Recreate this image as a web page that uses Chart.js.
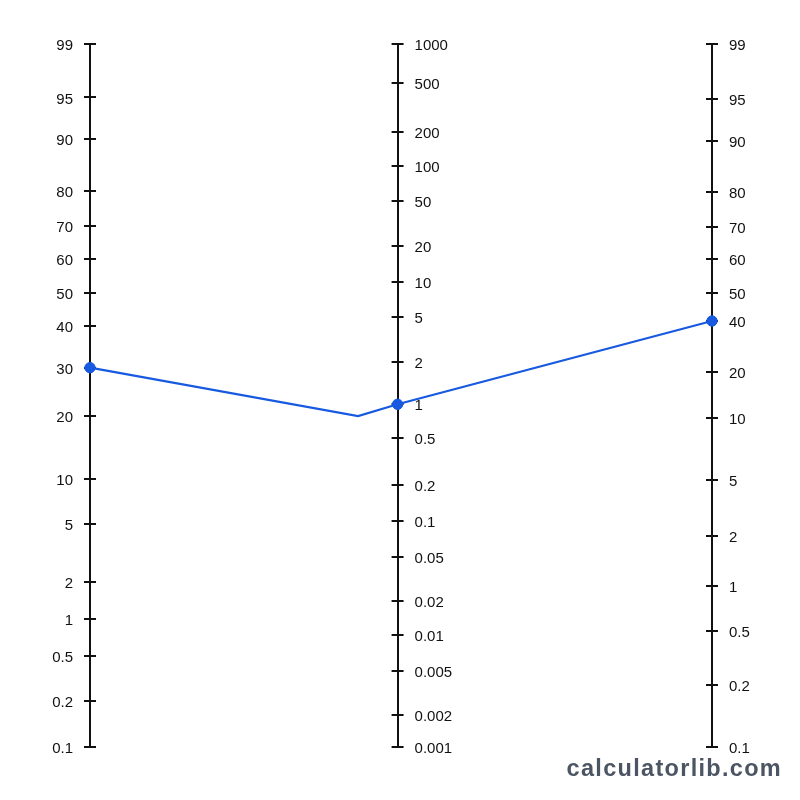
<!DOCTYPE html>
<html>
<head>
<meta charset="utf-8">
<script src="https://cdn.jsdelivr.net/npm/chart.js@4.4.1/dist/chart.umd.min.js"></script>
<style>
  html, body { margin: 0; padding: 0; background: #ffffff; }
  #wrap { position: relative; width: 800px; height: 800px; }
  #brand { position: absolute; right: 18px; top: 755px; font: bold 23.5px "Liberation Sans", Arial, sans-serif; color: #4b5563; letter-spacing: 1.3px; white-space: nowrap; }
</style>
</head>
<body>
<div id="wrap">
  <canvas id="c" width="800" height="800"></canvas>
  <div id="brand">calculatorlib.com</div>
</div>
<script>
// ---- Data (tick labels and the plotted values) ----
const preTestTicks = [0.1, 0.2, 0.5, 1, 2, 5, 10, 20, 30, 40, 50, 60, 70, 80, 90, 95, 99];
const likelihoodRatioTicks = [0.001, 0.002, 0.005, 0.01, 0.02, 0.05, 0.1, 0.2, 0.5, 1, 2, 5, 10, 20, 50, 100, 200, 500, 1000];
const postTestTicks = [0.1, 0.2, 0.5, 1, 2, 5, 10, 20, 40, 50, 60, 70, 80, 90, 95, 99];

const preTestProbability = 30;   // %
const likelihoodRatio = 1;
const postTestProbability = 40;  // %
const bendValue = 20;            // level of the line's bend, read on the pre-test scale
const bendAt = 0.431;            // where the bend sits between the outer axes (0 = left, 1 = right)

// ---- Scale calibration (fraction of axis height for each tick, as drawn) ----
const AXES = {
  pre:  { ticks: preTestTicks, x: 0, side: 'left',
          stops: [0, .0654, .1294, .1817, .2343, .3176, .3808, .4708, .5396, .5989, .6458, .6946, .7411, .7913, .8644, .924, 1] },
  lr:   { ticks: likelihoodRatioTicks, x: 0.4945, side: 'right',
          stops: [0, .0455, .1085, .1593, .2077, .2707, .3215, .3727, .4391, .4875, .5481, .6121, .6619, .7127, .7767, .8265, .8753, .9441, 1] },
  post: { ticks: postTestTicks, x: 1, side: 'right',
          stops: [0, .0882, .165, .229, .3006, .3798, .4676, .5339, .606, .6454, .6942, .7401, .789, .862, .9213, 1] }
};
const TICK_HALF = 6;
const LABEL_GAP = 17;
const LABEL_DROP = 2;

function fractionOf(id, v) {
  const t = AXES[id].ticks, s = AXES[id].stops;
  if (v <= t[0]) return s[0];
  if (v >= t[t.length - 1]) return s[s.length - 1];
  for (let i = 1; i < t.length; i++) {
    if (v <= t[i]) {
      const r = (Math.log(v) - Math.log(t[i - 1])) / (Math.log(t[i]) - Math.log(t[i - 1]));
      return s[i - 1] + r * (s[i] - s[i - 1]);
    }
  }
  return 1;
}

class NomogramScale extends Chart.LinearScale {
  determineDataLimits() { this.min = 0; this.max = 1; }
  buildTicks() { return AXES[this.id].ticks.map(v => ({ value: v })); }
  getPixelForValue(v) { return this.getPixelForDecimal(fractionOf(this.id, v)); }
  axisPixel() { return this.chart.scales.x.getPixelForValue(AXES[this.id].x); }
  _computeGridLineItems(area) {
    const items = super._computeGridLineItems(area);
    const ax = this.axisPixel();
    items.forEach(it => { it.tx1 = ax - TICK_HALF; it.tx2 = ax + TICK_HALF; });
    return items;
  }
  _computeLabelItems(area) {
    const items = super._computeLabelItems(area);
    const ax = this.axisPixel();
    const side = AXES[this.id].side;
    items.forEach(it => {
      it.options.translation[0] = side === 'left' ? ax - LABEL_GAP : ax + LABEL_GAP;
      it.options.translation[1] += LABEL_DROP;
      it.options.textAlign = side === 'left' ? 'right' : 'left';
    });
    return items;
  }
}
NomogramScale.id = 'nomogram';
Chart.register(NomogramScale);

const FONT = { family: '"Liberation Sans", Arial, Helvetica, sans-serif', size: 15 };
function axisOptions(extra) {
  return Object.assign({
    type: 'nomogram',
    axis: 'y',
    border: { display: true, color: '#111111', width: 2 },
    grid: { drawOnChartArea: false, drawTicks: true, tickLength: 6, color: '#111111', lineWidth: 2 },
    ticks: { autoSkip: false, padding: 8, color: '#111111', font: FONT, callback: v => String(v) }
  }, extra);
}

const lineScales = ['pre', 'pre', 'lr', 'post'];
const lineValues = [preTestProbability, bendValue, likelihoodRatio, postTestProbability];
const lineX = [AXES.pre.x, bendAt, AXES.lr.x, AXES.post.x];
const linePoints = lineValues.map((v, i) => ({ x: lineX[i], y: fractionOf(lineScales[i], v) }));

new Chart(document.getElementById('c'), {
  type: 'scatter',
  data: {
    datasets: [{
      data: linePoints,
      xAxisID: 'x',
      yAxisID: 'yLine',
      showLine: true,
      borderColor: '#1759e0',
      backgroundColor: '#1759e0',
      borderWidth: 2.2,
      pointRadius: [5.2, 0, 5.2, 5.2],
      pointBorderWidth: 1,
      pointBorderColor: '#1759e0',
      clip: false
    }]
  },
  options: {
    responsive: false,
    animation: false,
    events: [],
    layout: { padding: { top: 44, bottom: 53, left: 0, right: 0 } },
    plugins: { legend: { display: false }, tooltip: { enabled: false } },
    scales: {
      x: { type: 'linear', min: 0, max: 1, display: false },
      yLine: { type: 'linear', axis: 'y', min: 0, max: 1, display: false },
      pre: axisOptions({ position: 'left', afterFit: s => { s.width = 90; } }),
      lr: axisOptions({ position: { x: AXES.lr.x } }),
      post: axisOptions({ position: 'right', afterFit: s => { s.width = 88; } })
    }
  }
});
</script>
</body>
</html>
